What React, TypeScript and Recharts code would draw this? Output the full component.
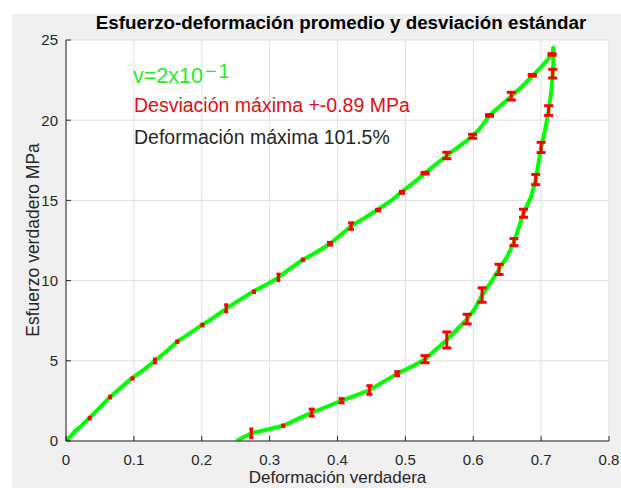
import React from 'react';
import { ComposedChart, Line, Scatter, XAxis, YAxis, CartesianGrid, ErrorBar } from 'recharts';

const xTicks = [0, 0.1, 0.2, 0.3, 0.4, 0.5, 0.6, 0.7, 0.8];
const yTicks = [0, 5, 10, 15, 20, 25];

// Loading branch (strain, stress MPa)
const loadX = [0, 0.008, 0.013, 0.02, 0.035, 0.05, 0.065, 0.08, 0.098, 0.115, 0.131, 0.148, 0.164, 0.18, 0.201, 0.218, 0.236, 0.256, 0.277, 0.295, 0.313, 0.33, 0.349, 0.37, 0.389, 0.405, 0.42, 0.44, 0.46, 0.478, 0.495, 0.512, 0.529, 0.545, 0.561, 0.58, 0.599, 0.612, 0.624, 0.64, 0.656, 0.672, 0.687, 0.702, 0.716, 0.718];
const loadY = [0, 0.35, 0.6, 0.85, 1.45, 2.1, 2.75, 3.3, 3.95, 4.45, 5.0, 5.6, 6.2, 6.65, 7.25, 7.7, 8.25, 8.8, 9.35, 9.75, 10.2, 10.75, 11.3, 11.8, 12.3, 12.85, 13.4, 13.9, 14.45, 14.95, 15.55, 16.1, 16.7, 17.25, 17.8, 18.4, 19.0, 19.6, 20.3, 20.9, 21.5, 22.1, 22.75, 23.4, 24.1, 24.5];

// Unloading branch
const unloadX = [0.718, 0.718, 0.717, 0.715, 0.711, 0.706, 0.7, 0.696, 0.692, 0.685, 0.674, 0.667, 0.66, 0.65, 0.638, 0.626, 0.613, 0.603, 0.591, 0.576, 0.561, 0.545, 0.529, 0.51, 0.488, 0.468, 0.447, 0.427, 0.406, 0.385, 0.362, 0.34, 0.32, 0.297, 0.273, 0.262, 0.253];
const unloadY = [24.5, 23.5, 22.9, 21.8, 20.6, 19.4, 18.3, 17.3, 16.3, 15.2, 14.2, 13.3, 12.4, 11.5, 10.7, 9.9, 9.1, 8.3, 7.6, 6.95, 6.3, 5.7, 5.1, 4.65, 4.2, 3.7, 3.18, 2.85, 2.51, 2.15, 1.77, 1.35, 0.95, 0.72, 0.48, 0.25, 0.05];

// Standard deviation markers
const barX = [0.035, 0.065, 0.098, 0.131, 0.164, 0.201, 0.236, 0.277, 0.313, 0.349, 0.389, 0.42, 0.46, 0.495, 0.529, 0.561, 0.599, 0.624, 0.656, 0.687, 0.716,
  0.717, 0.711, 0.7, 0.692, 0.674, 0.66, 0.638, 0.613, 0.591, 0.561, 0.529, 0.488, 0.447, 0.406, 0.362, 0.32, 0.273];
const barY = [1.43, 2.74, 3.9, 4.99, 6.19, 7.23, 8.27, 9.3, 10.2, 11.3, 12.3, 13.4, 14.4, 15.5, 16.7, 17.8, 19.0, 20.3, 21.5, 22.8, 24.1,
  22.9, 20.6, 18.3, 16.3, 14.2, 12.4, 10.7, 9.1, 7.6, 6.3, 5.1, 4.2, 3.18, 2.51, 1.77, 0.95, 0.48];
const barErr = [0.05, 0.05, 0.04, 0.12, 0.05, 0.05, 0.22, 0.05, 0.2, 0.05, 0.08, 0.2, 0.05, 0.06, 0.05, 0.2, 0.12, 0.05, 0.24, 0.05, 0.05,
  0.27, 0.3, 0.32, 0.32, 0.25, 0.22, 0.32, 0.45, 0.3, 0.5, 0.22, 0.12, 0.27, 0.13, 0.22, 0.05, 0.27];

const loadData = loadX.map((x, i) => ({ x, y: loadY[i] }));
const unloadData = unloadX.map((x, i) => ({ x, y: unloadY[i] }));
const bars = barX.map((x, i) => ({ x, y: barY[i], err: barErr[i] }));
const barsNarrow = bars.filter((b) => b.x < 0.35);
const barsMid = bars.filter((b) => b.x >= 0.35 && b.x < 0.52);
const barsWide = bars.filter((b) => b.x >= 0.52);

const FONT = '"Liberation Sans", Arial, Helvetica, sans-serif';
const AX = '#262626';
const GREEN = '#00ff00';
const RED = '#ff0000';

const noShape = () => <g />;

export default function App() {
  const tickStyle = { fill: AX, fontSize: 15, fontFamily: FONT };
  return (
    <div style={{ position: 'absolute', left: 0, top: 0, width: 621, height: 488, background: '#ffffff', overflow: 'hidden' }}>
      <div style={{ position: 'absolute', left: 12, top: 14, width: 609, height: 474, background: '#f0f0f0' }} />
      <div style={{ position: 'absolute', left: 0, top: 0 }}>
        <ComposedChart width={621} height={488} margin={{ top: 40, right: 12, bottom: 0, left: 0 }}>
          <CartesianGrid stroke="#dfdfdf" strokeWidth={1} fill="#ffffff" fillOpacity={1} />
          <XAxis dataKey="x" type="number" domain={[0, 0.8]} ticks={xTicks} height={47}
            tickSize={-5} tickMargin={18} stroke={AX} tick={tickStyle}
            tickFormatter={(v: number) => String(v)} allowDataOverflow />
          <XAxis xAxisId="t" orientation="top" dataKey="x" type="number" domain={[0, 0.8]} ticks={xTicks} height={0}
            tickSize={-5} stroke={AX} tick={false} allowDataOverflow />
          <YAxis dataKey="y" type="number" domain={[0, 25]} ticks={yTicks} width={66}
            tickSize={-5} tickMargin={13} stroke={AX} tick={tickStyle} allowDataOverflow />
          <YAxis yAxisId="r" orientation="right" type="number" domain={[0, 25]} ticks={yTicks} width={0}
            tickSize={-5} stroke={AX} tick={false} allowDataOverflow />
          <Line data={loadData} dataKey="y" type="linear" stroke={GREEN} strokeWidth={4} dot={false}
            strokeLinejoin="round" strokeLinecap="round" isAnimationActive={false} />
          <Line data={unloadData} dataKey="y" type="linear" stroke={GREEN} strokeWidth={4} dot={false}
            strokeLinejoin="round" strokeLinecap="round" isAnimationActive={false} />
          <Scatter data={barsNarrow} dataKey="y" shape={noShape} isAnimationActive={false}>
            <ErrorBar dataKey="err" direction="y" width={2} stroke={RED} strokeWidth={3} isAnimationActive={false} />
          </Scatter>
          <Scatter data={barsMid} dataKey="y" shape={noShape} isAnimationActive={false}>
            <ErrorBar dataKey="err" direction="y" width={3} stroke={RED} strokeWidth={3} isAnimationActive={false} />
          </Scatter>
          <Scatter data={barsWide} dataKey="y" shape={noShape} isAnimationActive={false}>
            <ErrorBar dataKey="err" direction="y" width={4.5} stroke={RED} strokeWidth={3} isAnimationActive={false} />
          </Scatter>
        </ComposedChart>
      </div>
      <svg width={621} height={488} style={{ position: 'absolute', left: 0, top: 0, pointerEvents: 'none' }}>
        <text x={341} y={29} textAnchor="middle" fontFamily={FONT} fontWeight="bold" fontSize={18.8} fill="#000000">
          Esfuerzo-deformación promedio y desviación estándar
        </text>
        <text x={133} y={83} fontFamily={FONT} fontSize={21.5} fill="#22ee22">
          v=2x10<tspan fontSize={20} dx={2} dy={-5} letterSpacing={2}>−1</tspan>
        </text>
        <text x={134} y={112} fontFamily={FONT} fontSize={19.5} fill="#e01010">
          Desviación máxima +-0.89 MPa
        </text>
        <text x={134} y={144} fontFamily={FONT} fontSize={19.5} fill="#262626">
          Deformación máxima 101.5%
        </text>
        <text x={337.5} y={483} textAnchor="middle" fontFamily={FONT} fontSize={17} fill="#262626">
          Deformación verdadera
        </text>
        <text x={38.5} y={240} textAnchor="middle" fontFamily={FONT} fontSize={17.5} fill="#262626"
          transform="rotate(-90, 38.5, 240)">
          Esfuerzo verdadero MPa
        </text>
      </svg>
    </div>
  );
}
